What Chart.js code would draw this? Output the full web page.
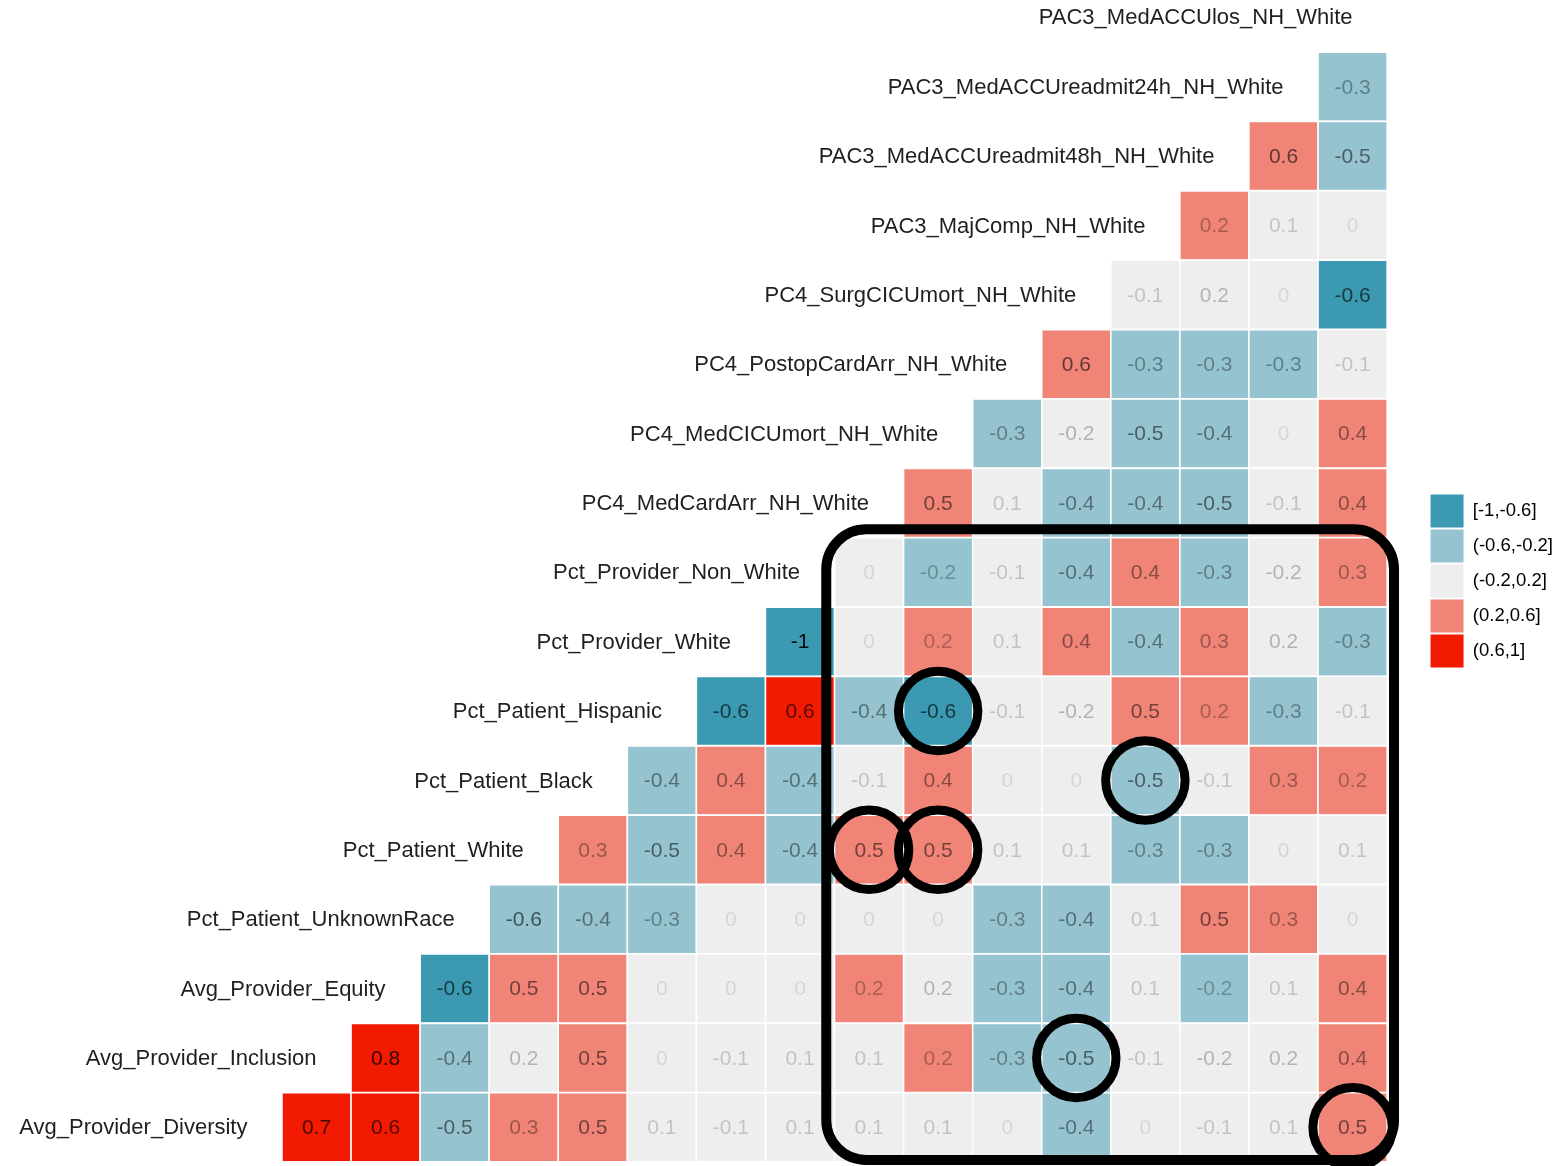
<!DOCTYPE html>
<html>
<head>
<meta charset="utf-8">
<script src="https://cdn.jsdelivr.net/npm/chart.js@4.4.1/dist/chart.umd.min.js"></script>
<style>
  html, body { margin: 0; padding: 0; background: #ffffff; }
</style>
</head>
<body>
<canvas id="corrChart" width="1563" height="1166"></canvas>
<script>
// variables, top row to bottom row (row i also sits on the diagonal)
var variables = [
    'PAC3_MedACCUlos_NH_White',
    'PAC3_MedACCUreadmit24h_NH_White',
    'PAC3_MedACCUreadmit48h_NH_White',
    'PAC3_MajComp_NH_White',
    'PC4_SurgCICUmort_NH_White',
    'PC4_PostopCardArr_NH_White',
    'PC4_MedCICUmort_NH_White',
    'PC4_MedCardArr_NH_White',
    'Pct_Provider_Non_White',
    'Pct_Provider_White',
    'Pct_Patient_Hispanic',
    'Pct_Patient_Black',
    'Pct_Patient_White',
    'Pct_Patient_UnknownRace',
    'Avg_Provider_Equity',
    'Avg_Provider_Inclusion',
    'Avg_Provider_Diversity'
];

// correlations per row, left to right (row r has r cells, ending in the last column)
var corrRows = [
    [],
    [-0.3],
    [0.58, -0.5],
    [0.24, 0.1, 0],
    [-0.1, 0.18, 0, -0.62],
    [0.58, -0.3, -0.3, -0.3, -0.1],
    [-0.3, -0.18, -0.5, -0.4, 0, 0.4],
    [0.5, 0.1, -0.4, -0.4, -0.5, -0.1, 0.4],
    [0, -0.22, -0.1, -0.4, 0.4, -0.3, -0.18, 0.3],
    [-1, 0, 0.22, 0.1, 0.4, -0.4, 0.3, 0.18, -0.3],
    [-0.62, 0.62, -0.4, -0.64, -0.1, -0.18, 0.5, 0.24, -0.3, -0.1],
    [-0.4, 0.4, -0.4, -0.1, 0.4, 0, 0, -0.5, -0.1, 0.3, 0.24],
    [0.3, -0.5, 0.4, -0.4, 0.5, 0.5, 0.1, 0.1, -0.3, -0.3, 0, 0.1],
    [-0.58, -0.4, -0.3, 0, 0, 0, 0, -0.3, -0.4, 0.1, 0.5, 0.3, 0],
    [-0.62, 0.5, 0.5, 0, 0, 0, 0.22, 0.18, -0.3, -0.4, 0.1, -0.22, 0.1, 0.4],
    [0.8, -0.4, 0.18, 0.5, 0, -0.1, 0.1, 0.1, 0.24, -0.3, -0.5, -0.1, -0.18, 0.18, 0.4],
    [0.7, 0.62, -0.5, 0.3, 0.5, 0.1, -0.1, 0.1, 0.1, 0.1, 0, -0.4, 0, -0.1, 0.1, 0.5]
];

var binLabels = ['[-1,-0.6]', '(-0.6,-0.2]', '(-0.2,0.2]', '(0.2,0.6]', '(0.6,1]'];
var binUpper = [-0.6, -0.2, 0.2, 0.6, 1];
var binColors = ['#3B9AB2', '#95C4D0', '#EEEEEE', '#F08477', '#F21A00'];

// hand-drawn marks: circled cells [row, col] and the boxed block
var circledCells = [[10, 9], [11, 12], [12, 8], [12, 9], [15, 11], [16, 15]];
var boxRows = [8, 16];
var boxCols = [8, 15];

var nCols = variables.length - 1;
var FONT = '"Liberation Sans", Arial, Helvetica, sans-serif';
Chart.defaults.font.family = FONT;

function binOf(v) {
    for (var i = 0; i < binUpper.length; i++) {
        if (v <= binUpper[i] + 1e-9) return i;
    }
    return binUpper.length - 1;
}

function fmt(v) {
    var s = (Math.round(v * 10) / 10).toString();
    return s === '-0' ? '0' : s;
}

var cells = [];
corrRows.forEach(function (row, r) {
    row.forEach(function (v, k) {
        cells.push({ x: nCols - r + k, y: r, v: v });
    });
});

function cellSide(chart) {
    var xs = chart.scales.x;
    return Math.abs(xs.getPixelForValue(1) - xs.getPixelForValue(0));
}

var labelsPlugin = {
    id: 'corrLabels',
    afterDatasetsDraw: function (chart) {
        var ctx = chart.ctx;
        var xs = chart.scales.x, ys = chart.scales.y;
        var meta = chart.getDatasetMeta(0);
        ctx.save();
        ctx.textBaseline = 'middle';

        // coefficient labels, alpha follows |r|
        ctx.font = '21px ' + FONT;
        ctx.textAlign = 'center';
        meta.data.forEach(function (pt, i) {
            var v = cells[i].v;
            ctx.fillStyle = 'rgba(0,0,0,' + (0.1 + 0.85 * Math.min(1, Math.abs(v))).toFixed(3) + ')';
            ctx.fillText(fmt(v), pt.x, pt.y + 1);
        });

        // variable names on the diagonal
        ctx.font = '22px ' + FONT;
        ctx.textAlign = 'right';
        ctx.fillStyle = '#1f1f1f';
        variables.forEach(function (name, r) {
            ctx.fillText(name, xs.getPixelForValue(nCols - 1 - r), ys.getPixelForValue(r) + 1);
        });
        ctx.restore();
    },
    afterDraw: function (chart) {
        var ctx = chart.ctx;
        var xs = chart.scales.x, ys = chart.scales.y;
        ctx.save();
        ctx.strokeStyle = '#000000';

        // rounded box
        var l = xs.getPixelForValue(boxCols[0] - 0.62);
        var rgt = xs.getPixelForValue(boxCols[1] + 0.6);
        var t = ys.getPixelForValue(boxRows[0] - 0.62);
        var b = ys.getPixelForValue(boxRows[1] + 0.47);
        var rad = 40;
        ctx.lineWidth = 10;
        ctx.beginPath();
        ctx.moveTo(l + rad, t);
        ctx.arcTo(rgt, t, rgt, b, rad);
        ctx.arcTo(rgt, b, l, b, rad);
        ctx.arcTo(l, b, l, t, rad);
        ctx.arcTo(l, t, rgt, t, rad);
        ctx.closePath();
        ctx.stroke();

        // circles
        ctx.lineWidth = 9;
        var cr = cellSide(chart) * 0.575;
        circledCells.forEach(function (c) {
            ctx.beginPath();
            ctx.arc(xs.getPixelForValue(c[1]), ys.getPixelForValue(c[0]), cr, 0, Math.PI * 2);
            ctx.stroke();
        });
        ctx.restore();
    }
};

var ctx = document.getElementById('corrChart').getContext('2d');
var corrChart = new Chart(ctx, {
    type: 'scatter',
    data: {
        datasets: [{
            data: cells,
            clip: false,
            pointStyle: 'rect',
            pointRadius: function (c) { return cellSide(c.chart) / Math.SQRT2; },
            pointHoverRadius: function (c) { return cellSide(c.chart) / Math.SQRT2; },
            backgroundColor: function (c) { return binColors[binOf(c.raw.v)]; },
            borderColor: '#ffffff',
            borderWidth: 1.5,
            hoverBorderWidth: 1.5
        }]
    },
    options: {
        responsive: false,
        animation: false,
        events: [],
        layout: { padding: { left: 282, right: 0, top: 0, bottom: 4 } },
        scales: {
            x: { type: 'linear', display: false, min: -0.5, max: 16.1 },
            y: { type: 'linear', display: false, reverse: true, min: -0.25, max: 16.5 }
        },
        plugins: {
            tooltip: { enabled: false },
            legend: {
                position: 'right',
                onClick: null,
                labels: {
                    boxWidth: 33,
                    boxHeight: 33,
                    padding: 2,
                    color: '#262626',
                    font: { size: 18.5 },
                    generateLabels: function () {
                        return binLabels.map(function (t, i) {
                            return { text: t, fillStyle: binColors[i], strokeStyle: binColors[i], lineWidth: 0, hidden: false, index: i };
                        });
                    }
                }
            }
        }
    },
    plugins: [labelsPlugin]
});
</script>
</body>
</html>
